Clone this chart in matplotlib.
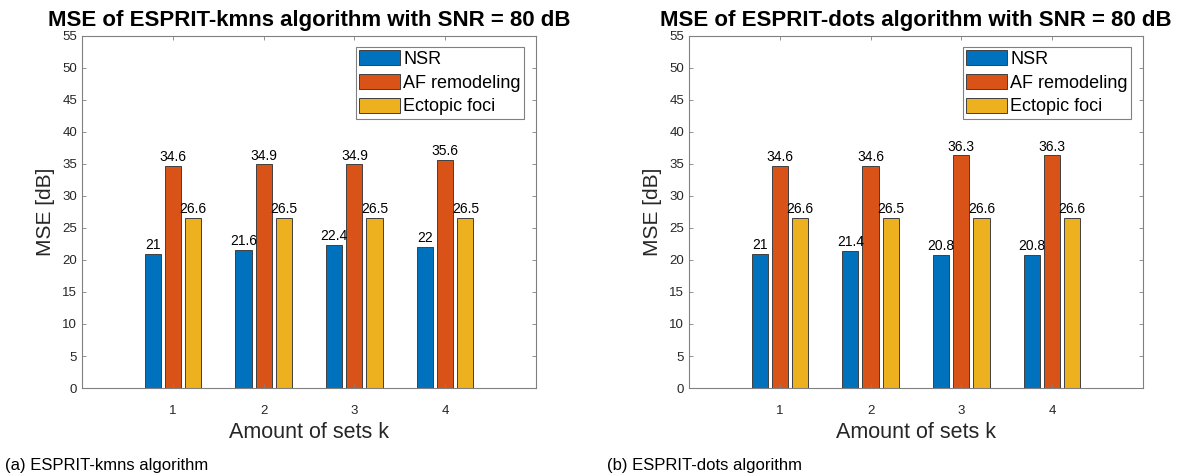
import numpy as np
import matplotlib
matplotlib.use("Agg")
import matplotlib.pyplot as plt

plt.rcParams['font.family'] = ['Liberation Sans', 'DejaVu Sans']

# data
k_values = [1, 2, 3, 4]
series_names = ["NSR", "AF remodeling", "Ectopic foci"]

kmns_nsr = [21, 21.6, 22.4, 22]
kmns_af = [34.6, 34.9, 34.9, 35.6]
kmns_ect = [26.6, 26.5, 26.5, 26.5]

dots_nsr = [21, 21.4, 20.8, 20.8]
dots_af = [34.6, 34.6, 36.3, 36.3]
dots_ect = [26.6, 26.5, 26.6, 26.6]

titles = ["MSE of ESPRIT-kmns algorithm with SNR = 80 dB",
          "MSE of ESPRIT-dots algorithm with SNR = 80 dB"]
captions = ["(a) ESPRIT-kmns algorithm", "(b) ESPRIT-dots algorithm"]

colors = ["#0072BD", "#D95319", "#EDB120"]
axcol = "#808080"
txtcol = "#262626"

fig = plt.figure(figsize=(11.79, 4.75), dpi=100)
ax_l = fig.add_axes([0.0696, 0.183, 0.385, 0.742])
ax_r = fig.add_axes([0.5844, 0.183, 0.385, 0.742])

def draw(ax, groups, title):
    x = np.array(k_values)
    offs = [-0.2222, 0, 0.2222]
    w = 0.178
    for vals, off, c, name in zip(groups, offs, colors, series_names):
        ax.bar(x + off, vals, w, color=c, edgecolor="#404040", linewidth=0.7, label=name)
        for xi, v in zip(x + off, vals):
            ax.text(xi, v + 0.3, "%g" % v, ha="center", va="bottom", fontsize=10, color="black")
    ax.set_xlim(0, 5)
    ax.set_ylim(0, 55)
    ax.set_xticks(k_values)
    ax.set_yticks(np.arange(0, 56, 5))
    ax.tick_params(direction="in", length=3, width=0.6, color=axcol, labelcolor=txtcol,
                   labelsize=9.5, top=True, right=True)
    ax.tick_params(axis="x", pad=12)
    for s in ax.spines.values():
        s.set_color(axcol)
        s.set_linewidth(0.8)
    ax.set_xlabel("Amount of sets k", fontsize=15.5, color=txtcol, labelpad=4)
    ax.set_ylabel("MSE [dB]", fontsize=15, color=txtcol, labelpad=5)
    ax.set_title(title, fontsize=16, fontweight="bold", pad=7)
    leg = ax.legend(loc="upper right", bbox_to_anchor=(0.974, 0.969), borderaxespad=0,
                    fontsize=13, fancybox=False, framealpha=1, edgecolor=axcol,
                    handlelength=2.25, handleheight=0.9, handletextpad=0.18,
                    borderpad=0.2, labelspacing=0.33)
    leg.get_frame().set_linewidth(0.8)

draw(ax_l, [kmns_nsr, kmns_af, kmns_ect], titles[0])
draw(ax_r, [dots_nsr, dots_af, dots_ect], titles[1])

fig.text(0.004, 0.0105, captions[0], fontsize=12, color="black", va="baseline")
fig.text(0.515, 0.0105, captions[1], fontsize=12, color="black", va="baseline")

fig.savefig("out.png", dpi=100)
